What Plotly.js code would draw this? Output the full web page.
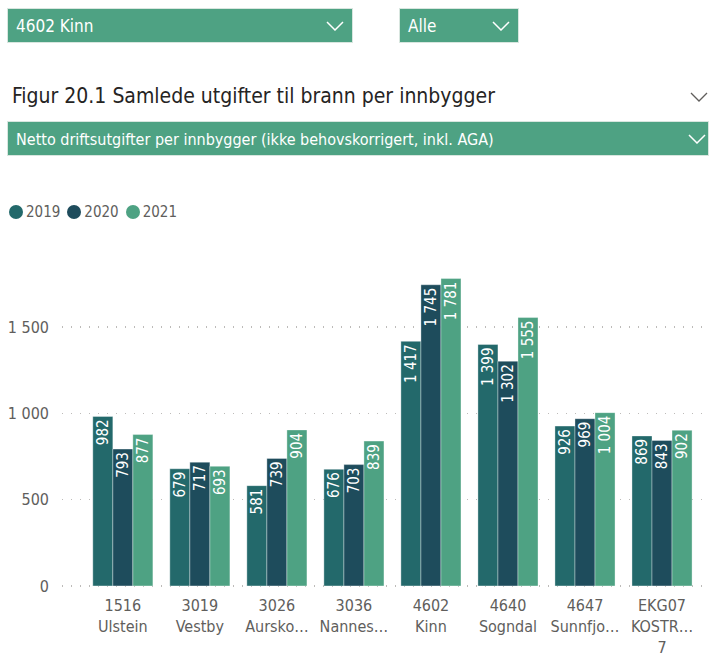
<!DOCTYPE html>
<html><head><meta charset="utf-8">
<script src="https://cdn.plot.ly/plotly-3.0.1.min.js"></script>
<style>
body{margin:0;width:709px;height:655px;overflow:hidden;background:#fff;font-family:"Liberation Sans Narrow","DejaVu Sans Condensed","Roboto",sans-serif;}
.dd{position:absolute;background:#4ea283;border:1px solid #d8e6df;color:#fff;box-sizing:border-box;}
.dd span{position:absolute;left:8px;top:50%;transform:translateY(-50%);font-size:17px;}
.chev{position:absolute;top:50%;transform:translateY(-50%);}
#title{position:absolute;left:12px;top:84px;font-size:21px;color:#252423;}
#legend{position:absolute;left:9px;top:203px;font-size:15px;color:#605e5c;display:flex;gap:7px;}
#legend .it{display:flex;align-items:center;gap:3px;}
#legend .dot{width:14px;height:14px;border-radius:50%;display:inline-block;}
#chart{position:absolute;left:0;top:0;width:709px;height:655px;}
</style></head>
<body>
<div id="chart"></div>
<div class="dd" style="left:7px;top:8px;width:346px;height:35px;"><span>4602 Kinn</span>
<svg class="chev" style="right:8px" width="18" height="10"><polyline points="1,1 9,9 17,1" fill="none" stroke="#fff" stroke-width="1.5"/></svg></div>
<div class="dd" style="left:399px;top:8px;width:120px;height:35px;"><span>Alle</span>
<svg class="chev" style="right:8px" width="18" height="10"><polyline points="1,1 9,9 17,1" fill="none" stroke="#fff" stroke-width="1.5"/></svg></div>
<div id="title">Figur 20.1 Samlede utgifter til brann per innbygger</div>
<svg style="position:absolute;left:690px;top:92px" width="18" height="10"><polyline points="1,1 9,9 17,1" fill="none" stroke="#605e5c" stroke-width="1.3"/></svg>
<div class="dd" style="left:7px;top:121px;width:702px;height:35px;"><span style="font-size:16px">Netto driftsutgifter per innbygger (ikke behovskorrigert, inkl. AGA)</span>
<svg class="chev" style="right:2px" width="18" height="10"><polyline points="1,1 9,9 17,1" fill="none" stroke="#fff" stroke-width="1.5"/></svg></div>
<div id="legend"></div>
<script>
const categories = ['1516<br>Ulstein','3019<br>Vestby','3026<br>Aursko…','3036<br>Nannes…','4602<br>Kinn','4640<br>Sogndal','4647<br>Sunnfjo…','EKG07<br>KOSTR…<br>7'];
const years = ['2019','2020','2021'];
const v2019 = [982,679,581,676,1417,1399,926,869];
const v2020 = [793,717,739,703,1745,1302,969,843];
const v2021 = [877,693,904,839,1781,1555,1004,902];
const colors = ['#23696b','#1e4c5c','#4ea283'];
const series = [v2019, v2020, v2021];

const lg = document.getElementById('legend');
years.forEach((y,i)=>{
  const d=document.createElement('div');d.className='it';
  d.innerHTML='<span class="dot" style="background:'+colors[i]+'"></span>'+y;
  lg.appendChild(d);
});

const FONT = '"Liberation Sans Narrow","DejaVu Sans Condensed",Roboto,sans-serif';
const idx = categories.map((c,i)=>i);
const traces = series.map((vals,i)=>({
  type:'bar', x: idx, y: vals, name: years[i],
  marker:{color:colors[i], line:{color:'rgba(255,255,255,0.35)', width:1}},
  texttemplate:'%{y:,}',
  textposition:'inside', insidetextanchor:'end', textangle:-90,
  insidetextfont:{color:'#ffffff', size:15, family:FONT},
  constraintext:'none', hoverinfo:'skip', showlegend:false
}));

const layout = {
  width:709, height:655,
  margin:{l:62, r:0, t:258, b:67},
  paper_bgcolor:'rgba(0,0,0,0)', plot_bgcolor:'rgba(0,0,0,0)',
  separators:', ',
  barmode:'group', bargap:0.22, bargroupgap:0,
  font:{family:FONT, color:'#605e5c', size:15},
  xaxis:{range:[-0.79,7.61], tickmode:'array', tickvals:idx, ticktext:categories,
    showgrid:false, zeroline:false, showline:false, ticks:'', ticklabelstandoff:6,
    tickfont:{size:16,color:'#605e5c'}, fixedrange:true},
  yaxis:{range:[-12,1900], tickvals:[0,500,1000,1500], tickformat:',', showgrid:true,
    gridcolor:'#bdbbb9', griddash:'1px,8px', gridwidth:1.3, zeroline:false, showline:false, ticks:'',
    ticklabelstandoff:12, tickfont:{size:16,color:'#605e5c'}, fixedrange:true},
  showlegend:false
};
Plotly.newPlot('chart', traces, layout, {displayModeBar:false, staticPlot:true});
</script>
</body></html>
